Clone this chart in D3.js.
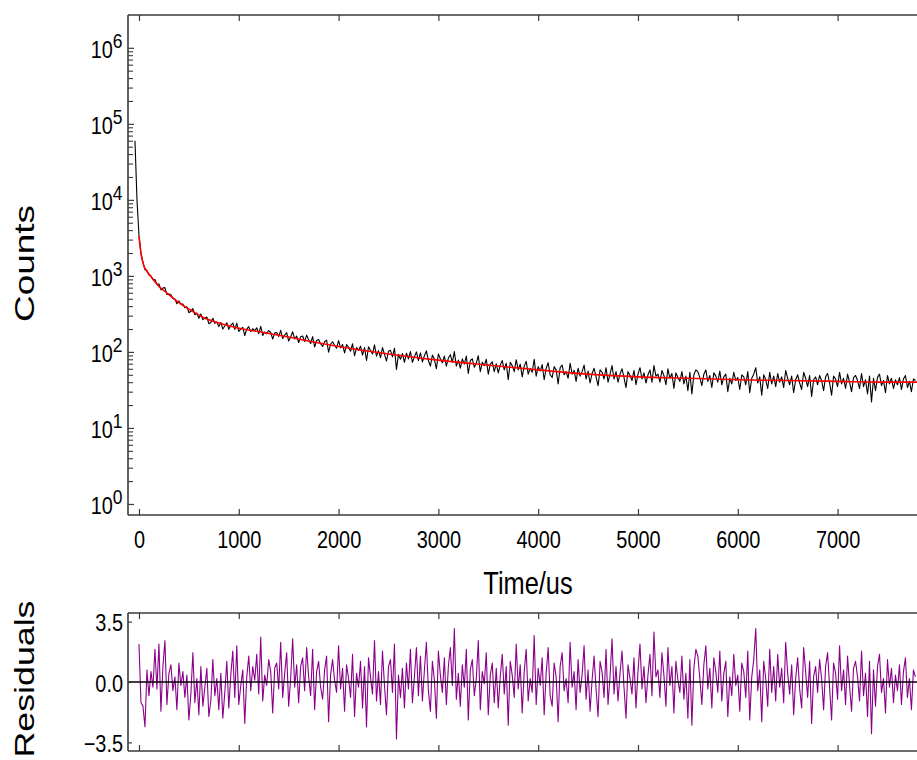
<!DOCTYPE html>
<html>
<head>
<meta charset="utf-8">
<script src="https://cdn.jsdelivr.net/npm/d3@7"></script>
<style>
  html, body { margin: 0; padding: 0; background: #fff; }
  svg { display: block; }
</style>
</head>
<body>
<svg id="chart" width="917" height="760"></svg>
<script>
// ---------------- DATA ----------------
const xTickValues = [0, 1000, 2000, 3000, 4000, 5000, 6000, 7000];
const yDecades = [0, 1, 2, 3, 4, 5, 6];
const residTickValues = [3.5, 0.0, -3.5];

// time sampling (us)
const countsStart = -40;
const residStart = 0;
const sampleStep = 20;

// fitted decay (red)
const fitTimes  = [0, 20, 50, 80, 120, 160, 200, 250, 300, 400, 540, 650, 800, 1000, 1250, 1500, 1750, 2000, 2500, 3000, 3500, 4000, 4500, 5000, 5500, 6000, 6500, 7000, 7500, 7900];
const fitValues = [3300, 2000, 1350, 1150, 980, 840, 725, 640, 565, 445, 340, 282, 240, 205, 180, 157, 135, 118, 94, 78, 67, 58, 51, 47, 45, 43, 42, 41, 40, 40];

// measured counts (black), from t = -40 us every 20 us
const counts = [60000, 10000,
  3425,1946,1495,1206,1174,1024,999,891,895,769,784,655,693,700,568,577,563,503,497,431,
  468,426,427,382,393,328,342,371,308,324,277,316,266,277,288,235,244,277,237,248,
  215,244,200,219,242,198,223,240,198,238,186,200,210,164,200,215,185,202,189,208,
  174,217,165,183,173,191,180,147,178,180,160,192,150,166,179,139,157,184,148,162,
  133,158,162,137,166,144,129,159,116,141,146,128,118,136,143,99,127,136,122,112,
  141,113,125,97,125,115,102,128,89,114,105,119,91,114,77,117,105,94,124,88,
  104,84,114,93,76,102,105,86,112,59,93,80,95,73,96,81,101,73,86,100,
  77,97,74,89,103,77,65,91,80,60,94,81,72,88,65,83,92,73,101,65,
  78,61,81,69,88,52,77,81,63,71,89,55,73,66,80,51,69,74,55,70,
  53,67,77,58,71,43,73,66,55,79,58,69,47,65,75,51,61,54,80,48,
  64,56,68,43,61,72,50,46,64,58,38,62,67,50,55,45,71,51,57,41,
  61,48,55,67,44,56,39,52,61,47,36,58,54,44,62,40,51,66,44,55,
  40,51,60,46,34,55,49,42,57,37,51,62,44,53,39,50,58,40,66,48,
  51,40,57,49,37,60,45,52,33,53,46,41,55,38,48,31,54,28,50,58,
  55,46,36,51,58,41,49,34,53,48,40,56,37,47,51,30,45,38,54,42,
  46,32,50,47,37,55,29,45,51,62,39,47,27,50,43,33,54,38,48,35,
  52,40,47,34,57,45,37,48,29,43,50,39,32,54,45,35,49,26,43,47,
  37,49,42,31,47,52,39,27,48,44,35,54,38,45,33,51,40,30,46,49,
  42,33,52,35,43,28,48,22,45,31,46,51,36,42,29,49,38,45,33,43,
  37,46,32,44,49,34,41,30,44,42
];

// weighted residuals (purple), from t = 0 us every 20 us
const residuals = [
  2.2,-1.2,-1.4,-2.6,0.7,-0.8,0.6,-0.3,1.9,-0.4,2.2,-1.7,0.9,2.4,-1.3,0.5,1.0,-0.5,0.3,-1.6,
  1.1,-0.2,0.6,-0.9,0.4,-2.2,-0.7,1.7,-1.2,0.2,-1.9,0.9,-1.4,-0.3,0.8,-2.0,-1.1,1.3,-0.8,0.2,
  -1.6,0.5,-2.1,-0.6,1.2,-1.5,0.4,1.8,-0.9,2.1,-1.3,-0.2,0.7,-2.4,0.3,1.5,-0.5,0.9,0.1,1.6,
  -0.7,2.6,-1.1,0.4,-0.2,1.3,0.6,-1.8,0.8,1.1,-0.4,2.3,-0.9,0.5,1.7,-1.4,0.2,2.5,-0.3,1.0,
  -1.2,0.9,1.4,-0.5,2.0,0.3,-0.8,1.9,-1.6,0.6,1.2,-0.3,-1.0,0.7,1.5,-2.3,0.4,1.3,0.1,-0.6,
  2.1,-0.4,0.8,-1.7,1.0,0.2,-0.9,1.6,-2.0,0.5,-0.3,1.2,-1.5,0.9,-2.6,1.4,0.3,-0.7,2.4,-1.1,
  0.6,-1.3,1.8,-0.2,-1.9,0.9,1.3,-0.6,2.2,-3.3,0.4,-0.9,0.8,-1.5,1.1,-0.4,1.9,-1.2,0.3,2.0,
  -0.8,1.5,-1.1,0.7,2.3,-0.5,-1.7,1.2,0.1,-2.1,1.8,0.4,-0.6,1.4,-1.3,0.9,2.0,-0.2,3.1,-1.0,
  0.5,-1.4,1.0,-0.3,1.9,-2.2,0.7,1.3,-0.8,0.2,2.4,-1.6,0.6,-0.1,1.7,-1.9,0.4,1.1,-1.2,0.8,
  -1.5,0.3,1.6,-0.7,0.9,-2.5,1.2,0.4,-0.9,2.2,-0.4,1.0,-1.8,0.6,1.9,-1.1,0.2,-0.6,2.7,-1.3,
  0.8,-0.2,1.4,-1.9,0.5,2.0,-0.8,-1.4,1.1,0.3,-2.3,0.9,1.7,-0.5,0.2,-1.2,2.3,-0.3,0.6,-1.6,
  1.3,-0.6,0.4,2.1,-1.0,0.7,-1.7,0.1,1.5,-0.4,-2.0,1.2,0.6,-0.9,1.9,-1.3,0.3,2.5,-0.7,0.9,
  -1.1,0.5,1.8,-0.3,-2.1,1.0,0.2,-0.7,1.4,-1.5,0.6,2.2,-0.4,0.9,-1.2,0.4,1.6,-0.8,2.9,0.3,
  0.7,-0.9,1.7,0.4,-1.4,2.0,-0.2,0.9,-1.8,1.2,0.1,-0.6,1.5,-1.0,0.5,-2.1,1.3,-2.5,0.8,1.9,
  1.5,0.2,-1.3,1.0,2.1,-0.4,0.8,-1.5,1.4,0.6,-0.6,1.8,-1.1,0.5,1.2,-2.0,0.3,-0.8,1.6,-0.2,
  0.4,-1.7,1.1,0.6,-0.9,1.8,-2.2,0.3,1.3,3.1,-0.5,0.7,-2.3,1.2,0.2,-1.4,1.9,-0.6,0.9,-1.1,
  1.6,-0.3,0.8,-1.2,2.3,0.5,-0.7,1.0,-1.9,0.2,1.4,-0.4,-1.5,2.0,0.6,-0.9,1.2,-2.4,0.3,0.9,
  -0.6,1.3,0.2,-1.6,0.9,1.7,-0.3,-2.2,1.1,0.5,-1.0,2.1,-0.5,0.7,-1.3,1.5,-0.2,-1.7,0.8,1.2,
  0.3,-1.1,1.8,-0.8,0.5,-2.0,1.2,-3.0,0.7,-1.4,0.9,1.6,-0.6,0.2,-1.8,1.3,-0.3,0.8,-1.2,0.4,
  -0.5,1.0,-1.3,0.6,1.4,-0.9,0.2,-1.6,0.7,0.3
];

// ---------------- LAYOUT ----------------
const plotLeft = 128, plotRight = 927.4;
const topPanel = { top: 15, bottom: 515 };
const resPanel = { top: 613, bottom: 751 };
const frameColor = "#3a3a3a";
const NF = "'Liberation Sans', Arial, sans-serif";   // condensed via horizontal scale
const SX = 0.83;

const svg = d3.select("#chart");

// scales
const x = d3.scaleLinear().domain([-110, 7900]).range([plotLeft, plotRight]);
const y = d3.scaleLog().domain([0.716, 2.7e6]).range([topPanel.bottom, topPanel.top]);
const yr = d3.scaleLinear().domain([-4, 4]).range([resPanel.bottom, resPanel.top]);

// clip paths
const defs = svg.append("defs");
defs.append("clipPath").attr("id", "clipTop").append("rect")
  .attr("x", plotLeft).attr("y", topPanel.top)
  .attr("width", plotRight - plotLeft).attr("height", topPanel.bottom - topPanel.top);
defs.append("clipPath").attr("id", "clipRes").append("rect")
  .attr("x", plotLeft).attr("y", resPanel.top)
  .attr("width", plotRight - plotLeft).attr("height", resPanel.bottom - resPanel.top);

// ---------------- TOP PANEL ----------------
const countPts = counts.map((v, i) => [countsStart + i * sampleStep, v]);
const fitPts = fitTimes.map((t, i) => [t, fitValues[i]]);

const gTop = svg.append("g").attr("clip-path", "url(#clipTop)");
gTop.append("path")
  .datum(countPts)
  .attr("fill", "none").attr("stroke", "#000").attr("stroke-width", 1.1)
  .attr("stroke-linejoin", "round")
  .attr("d", d3.line().x(d => x(d[0])).y(d => y(d[1])));
gTop.append("path")
  .datum(fitPts)
  .attr("fill", "none").attr("stroke", "#ff0000").attr("stroke-width", 1.6)
  .attr("d", d3.line().curve(d3.curveMonotoneX).x(d => x(d[0])).y(d => y(d[1])));

// bottom x axis with inward ticks
const xAxisB = svg.append("g").attr("transform", `translate(0,${topPanel.bottom})`)
  .call(d3.axisBottom(x).tickValues(xTickValues).tickSizeInner(-6).tickSizeOuter(0).tickFormat(d3.format("d")));
xAxisB.select(".domain").remove();
xAxisB.selectAll(".tick line").attr("stroke", frameColor).attr("stroke-width", 1.2);
xAxisB.selectAll(".tick text")
  .attr("y", 0).attr("dy", 0)
  .attr("font-family", NF).attr("font-size", 24).attr("fill", "#000")
  .attr("transform", `translate(0,33) scale(${SX},1)`);

// top x axis ticks (inward)
const xAxisT = svg.append("g").attr("transform", `translate(0,${topPanel.top})`)
  .call(d3.axisTop(x).tickValues(xTickValues).tickSizeInner(-6).tickSizeOuter(0).tickFormat(""));
xAxisT.select(".domain").remove();
xAxisT.selectAll(".tick line").attr("stroke", frameColor).attr("stroke-width", 1.2);

// log y axis: majors + minors
const majors = yDecades.map(e => Math.pow(10, e));
const minors = [];
yDecades.slice(0, -1).forEach(e => { for (let k = 2; k <= 9; k++) minors.push(k * Math.pow(10, e)); });

const yMinor = svg.append("g").attr("transform", `translate(${plotLeft},0)`)
  .call(d3.axisLeft(y).tickValues(minors).tickSizeInner(-5).tickSizeOuter(0).tickFormat(""));
yMinor.select(".domain").remove();
yMinor.selectAll(".tick line").attr("stroke", frameColor).attr("stroke-width", 1.1);

const yMajor = svg.append("g").attr("transform", `translate(${plotLeft},0)`)
  .call(d3.axisLeft(y).tickValues(majors).tickSizeInner(-6).tickSizeOuter(0).tickFormat(""));
yMajor.select(".domain").remove();
yMajor.selectAll(".tick line").attr("stroke", frameColor).attr("stroke-width", 1.2);
yMajor.selectAll(".tick text").remove();
yMajor.selectAll(".tick").each(function(d) {
  const e = Math.round(Math.log10(d));
  const lbl = d3.select(this).append("g").attr("transform", `translate(-5.5,9.5) scale(${SX},1)`);
  const t = lbl.append("text").attr("text-anchor", "end")
    .attr("font-family", NF).attr("fill", "#000");
  t.append("tspan").attr("font-size", 24).text("10");
  t.append("tspan").attr("font-size", 21).attr("dy", -10).text(String(e));
});

// frame of top panel
svg.append("line").attr("x1", plotLeft).attr("x2", plotLeft).attr("y1", topPanel.top).attr("y2", topPanel.bottom)
  .attr("stroke", frameColor).attr("stroke-width", 1.6);
svg.append("line").attr("x1", plotLeft).attr("x2", plotRight).attr("y1", topPanel.top).attr("y2", topPanel.top)
  .attr("stroke", frameColor).attr("stroke-width", 1.6);
svg.append("line").attr("x1", plotLeft).attr("x2", plotRight).attr("y1", topPanel.bottom).attr("y2", topPanel.bottom)
  .attr("stroke", frameColor).attr("stroke-width", 1.6);

// axis titles
svg.append("g").attr("transform", `translate(528,594) scale(0.82,1)`)
  .append("text").attr("text-anchor", "middle")
  .attr("font-family", NF).attr("font-size", 31).attr("fill", "#000").text("Time/us");

svg.append("text")
  .attr("transform", "translate(34,263.5) rotate(-90)")
  .attr("text-anchor", "middle")
  .attr("font-family", NF).attr("font-size", 28)
  .attr("textLength", 117).attr("lengthAdjust", "spacingAndGlyphs")
  .attr("fill", "#000").text("Counts");

// ---------------- RESIDUAL PANEL ----------------
const resPts = residuals.map((v, i) => [residStart + i * sampleStep, v]);

const gRes = svg.append("g").attr("clip-path", "url(#clipRes)");
gRes.append("path")
  .datum(resPts)
  .attr("fill", "none").attr("stroke", "#8b008b").attr("stroke-width", 1.1)
  .attr("stroke-linejoin", "round")
  .attr("d", d3.line().x(d => x(d[0])).y(d => yr(d[1])));

// zero line
svg.append("line").attr("x1", plotLeft).attr("x2", plotRight).attr("y1", yr(0)).attr("y2", yr(0))
  .attr("stroke", "#000").attr("stroke-width", 1.5);

// residual x ticks top & bottom
const rAxisT = svg.append("g").attr("transform", `translate(0,${resPanel.top})`)
  .call(d3.axisTop(x).tickValues(xTickValues).tickSizeInner(-6).tickSizeOuter(0).tickFormat(""));
rAxisT.select(".domain").remove();
rAxisT.selectAll(".tick line").attr("stroke", frameColor).attr("stroke-width", 1.2);
const rAxisB = svg.append("g").attr("transform", `translate(0,${resPanel.bottom})`)
  .call(d3.axisBottom(x).tickValues(xTickValues).tickSizeInner(-6).tickSizeOuter(0).tickFormat(""));
rAxisB.select(".domain").remove();
rAxisB.selectAll(".tick line").attr("stroke", frameColor).attr("stroke-width", 1.2);

// residual y axis
const rAxisL = svg.append("g").attr("transform", `translate(${plotLeft},0)`)
  .call(d3.axisLeft(yr).tickValues(residTickValues).tickSizeInner(-4).tickSizeOuter(0).tickFormat(d3.format(".1f")));
rAxisL.select(".domain").remove();
rAxisL.selectAll(".tick line").attr("stroke", frameColor).attr("stroke-width", 1.2);
rAxisL.selectAll(".tick text")
  .attr("x", 0).attr("dy", 0).attr("y", 0)
  .attr("text-anchor", "end")
  .attr("font-family", NF).attr("font-size", 24).attr("fill", "#000")
  .attr("transform", `translate(-5,9) scale(${SX},1)`);

// frame of residual panel
svg.append("line").attr("x1", plotLeft).attr("x2", plotLeft).attr("y1", resPanel.top).attr("y2", resPanel.bottom)
  .attr("stroke", frameColor).attr("stroke-width", 1.6);
svg.append("line").attr("x1", plotLeft).attr("x2", plotRight).attr("y1", resPanel.top).attr("y2", resPanel.top)
  .attr("stroke", frameColor).attr("stroke-width", 1.6);
svg.append("line").attr("x1", plotLeft).attr("x2", plotRight).attr("y1", resPanel.bottom).attr("y2", resPanel.bottom)
  .attr("stroke", frameColor).attr("stroke-width", 1.6);

svg.append("text")
  .attr("transform", "translate(34,679) rotate(-90)")
  .attr("text-anchor", "middle")
  .attr("font-family", NF).attr("font-size", 28)
  .attr("textLength", 157).attr("lengthAdjust", "spacingAndGlyphs")
  .attr("fill", "#000").text("Residuals");
</script>
</body>
</html>
